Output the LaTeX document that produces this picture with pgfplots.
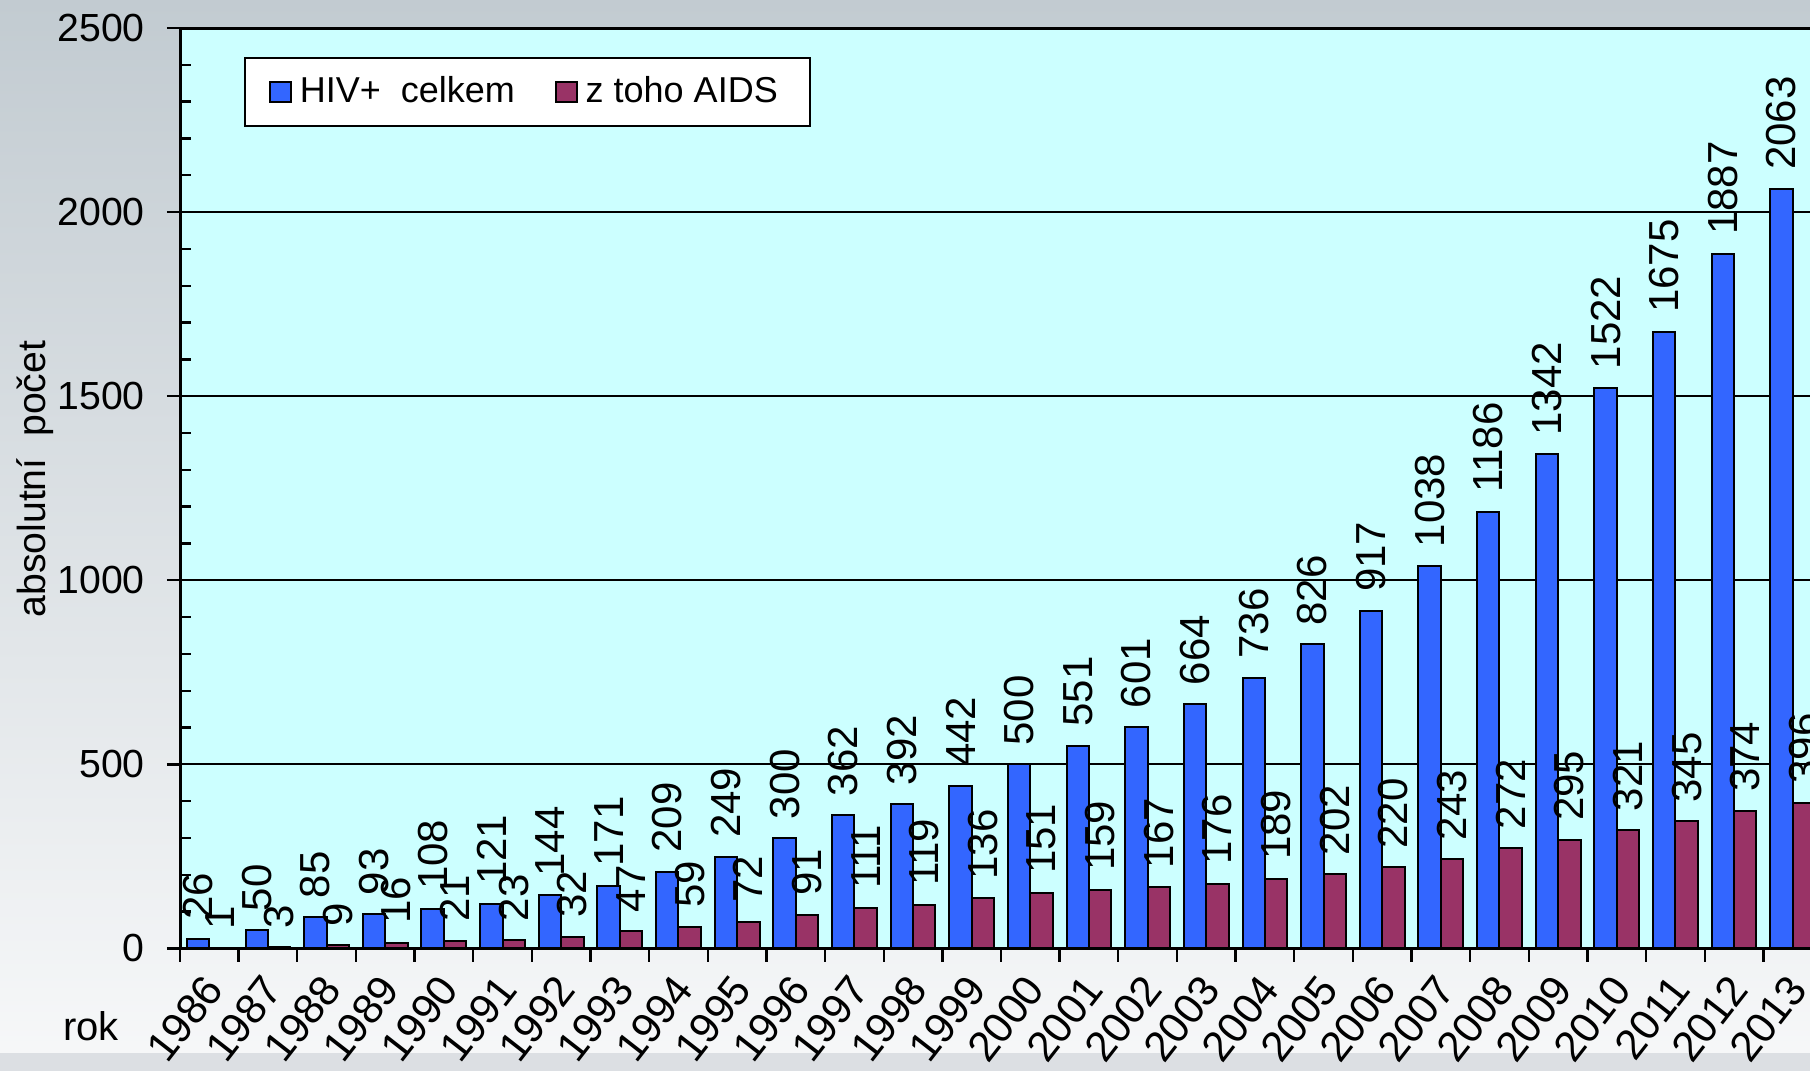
\documentclass[border=0pt]{standalone}
\usepackage{fontspec}
\setmainfont{Liberation Sans}
\usepackage{pgfplots}
\pgfplotsset{compat=1.18}
\definecolor{hivblue}{HTML}{3366FF}
\definecolor{aidsred}{HTML}{993366}
\definecolor{plotbg}{HTML}{CCFFFF}
\definecolor{bgtop}{HTML}{C2CBD1}
\definecolor{bgbot}{HTML}{F7F8F9}
\definecolor{bgstrip}{HTML}{DCDFE3}
\begin{document}
\begin{tikzpicture}
\shade[top color=bgtop, bottom color=bgbot] (0,0) rectangle (452.5pt,267.75pt);
\fill[bgstrip] (0,0) rectangle (452.5pt,4.5pt);
\clip (0,0) rectangle (452.5pt,267.75pt);
\node[font=\fontsize{10pt}{12pt}\selectfont] at (22.75pt,11.3pt) {rok};
\begin{axis}[
  at={(45pt,30.625pt)}, anchor=south west,
  scale only axis, width=410.5pt, height=230.125pt,
  xmin=-0.5, xmax=27.5, ymin=0, ymax=2500,
  axis background/.style={fill=plotbg},
  axis line style={line width=0.75pt},
  ybar=0pt, bar width=5.6pt,
  xtick={-0.5,0.5,...,27.5},
  x tick label as interval,
  xticklabels={1986,1987,1988,1989,1990,1991,1992,1993,1994,1995,1996,1997,1998,1999,2000,2001,2002,2003,2004,2005,2006,2007,2008,2009,2010,2011,2012,2013},
  xticklabel style={xshift=-2pt, yshift=-1pt, rotate=52, anchor=north east, font=\fontsize{10.6pt}{12pt}\selectfont, inner sep=1pt},
  ytick={0,500,...,2500},
  yticklabel style={font=\fontsize{9.8pt}{12pt}\selectfont, inner xsep=5.3pt},
  tick align=outside,
  major tick length=3.3pt,
  xtick pos=bottom, ytick pos=left,
  tick style={line width=0.6pt, black},
  ymajorgrids,
  grid style={line width=0.5pt, black},
  extra y ticks={100,200,300,400,600,700,800,900,1100,1200,1300,1400,1600,1700,1800,1900,2100,2200,2300,2400},
  extra y tick labels={},
  extra y tick style={grid=none, tick align=inside, major tick length=2.8pt},
  /pgf/number format/1000 sep={},
  /pgf/number format/assume math mode=true,
  ylabel={absolutní\ \ počet},
  ylabel style={font=\fontsize{9.8pt}{12pt}\selectfont, at={(axis description cs:0,0.51)}, anchor=south, yshift=28pt},
  nodes near coords,
  every node near coord/.append style={rotate=90, anchor=west, font=\fontsize{10.5pt}{12pt}\selectfont, inner xsep=4.5pt, inner ysep=0pt, black},
  legend columns=2,
  legend style={at={(0.039,0.9685)}, anchor=north west, draw=black, line width=0.5pt, fill=white, font=\fontsize{9pt}{11pt}\selectfont, inner xsep=6pt, inner ysep=2.5pt, /tikz/every even column/.append style={column sep=8pt}},
]
\addplot[fill=hivblue, draw=black, line width=0.5pt,
  legend image code/.code={\draw[fill=hivblue, draw=black, line width=0.5pt] (0pt,-2.6pt) rectangle (5.2pt,2.6pt);}]
 coordinates {(0,26) (1,50) (2,85) (3,93) (4,108) (5,121) (6,144) (7,171) (8,209) (9,249) (10,300) (11,362) (12,392) (13,442) (14,500) (15,551) (16,601) (17,664) (18,736) (19,826) (20,917) (21,1038) (22,1186) (23,1342) (24,1522) (25,1675) (26,1887) (27,2063)};
\addlegendentry{HIV+\ \ celkem}
\addplot[fill=aidsred, draw=black, line width=0.5pt,
  legend image code/.code={\draw[fill=aidsred, draw=black, line width=0.5pt] (0pt,-2.6pt) rectangle (5.2pt,2.6pt);}]
 coordinates {(0,1) (1,3) (2,9) (3,16) (4,21) (5,23) (6,32) (7,47) (8,59) (9,72) (10,91) (11,111) (12,119) (13,136) (14,151) (15,159) (16,167) (17,176) (18,189) (19,202) (20,220) (21,243) (22,272) (23,295) (24,321) (25,345) (26,374) (27,396)};
\addlegendentry{z toho AIDS}
\end{axis}
\end{tikzpicture}
\end{document}
